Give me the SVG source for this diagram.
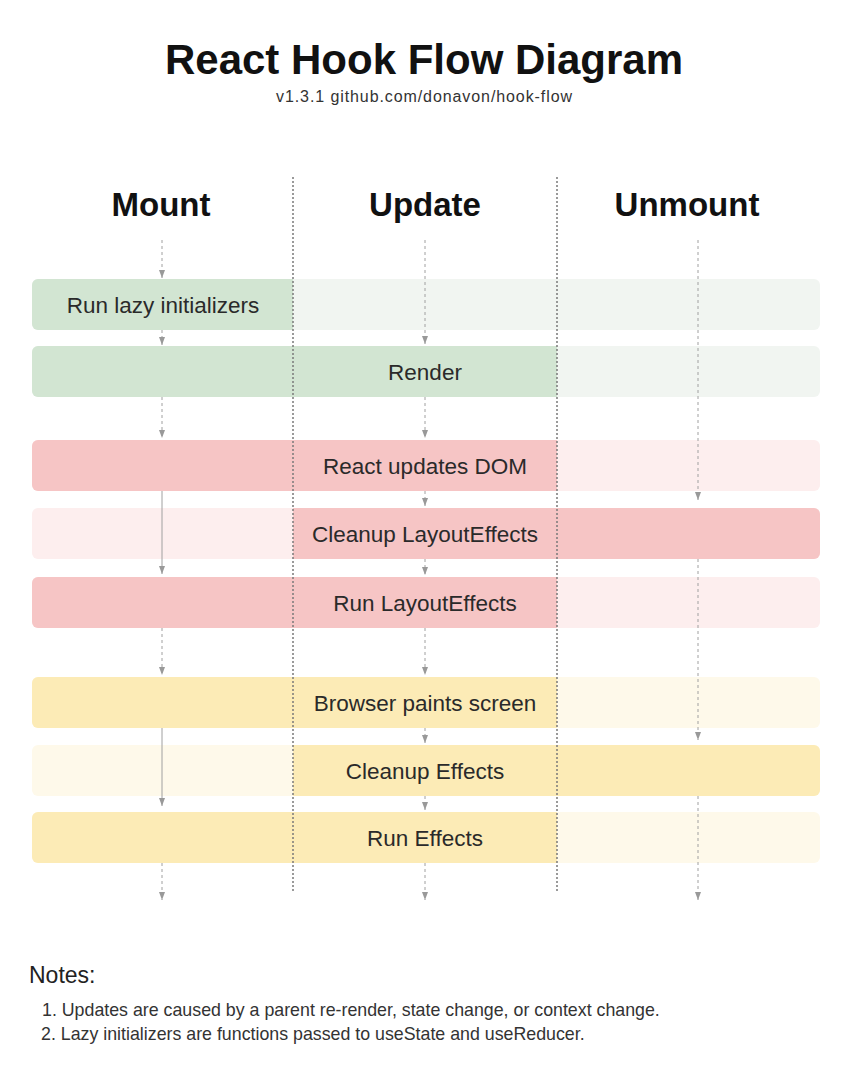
<svg xmlns="http://www.w3.org/2000/svg" width="848" height="1078" viewBox="0 0 848 1078">
  <style>
    .title { font-family: "Liberation Sans", Arial, sans-serif; font-weight: bold; font-size: 42px; fill: #111; text-anchor: middle; }
    .sub { font-family: "Liberation Sans", Arial, sans-serif; font-size: 16px; fill: #333; text-anchor: middle; }
    .head { font-family: "Liberation Sans", Arial, sans-serif; font-weight: bold; font-size: 33px; fill: #111; text-anchor: middle; }
    .lbl { font-family: "Liberation Sans", Arial, sans-serif; font-size: 22.5px; fill: #2a2a2a; text-anchor: middle; }
    .notesh { font-family: "Liberation Sans", Arial, sans-serif; font-size: 23px; fill: #222; }
    .note { font-family: "Liberation Sans", Arial, sans-serif; font-size: 17.8px; fill: #333; }
    .gS { fill: #d2e5d2; } .gF { fill: #f1f5f1; }
    .rS { fill: #f6c5c5; } .rF { fill: #fdeeee; }
    .yS { fill: #fcebb6; } .yF { fill: #fef9ea; }
    .sep { stroke: #7a7a7a; stroke-width: 1.5; stroke-dasharray: 2 2; fill: none; }
    .dash { stroke: #a0a0a0; stroke-width: 1; stroke-dasharray: 3 3; fill: none; }
    .solid { stroke: #a0a0a0; stroke-width: 1; fill: none; }
  </style>
  <defs>
    <marker id="ah" viewBox="0 0 8 6" refX="8" refY="3" markerWidth="8" markerHeight="6" markerUnits="userSpaceOnUse" orient="auto">
      <path d="M0,0 L8,3 L0,6 Z" fill="#999"/>
    </marker>
  </defs>
  <rect width="848" height="1078" fill="#fff"/>

  <text class="title" x="424" y="74">React Hook Flow Diagram</text>
  <text class="sub" x="424" y="102" textLength="296" lengthAdjust="spacing">v1.3.1 github.com/donavon/hook-flow</text>

  <text class="head" x="161" y="216">Mount</text>
  <text class="head" x="425" y="216">Update</text>
  <text class="head" x="687" y="216">Unmount</text>

  <g id="node-run-lazy-initializers">
    <rect class="gF" x="32" y="279" width="788" height="51" rx="6"/>
    <path class="gS" d="M38,279 H293 V330 H38 A6,6 0 0 1 32,324 V285 A6,6 0 0 1 38,279 Z"/>
    <text class="lbl" x="163" y="312.5">Run lazy initializers</text>
  </g>
  <g id="node-render">
    <rect class="gF" x="32" y="346" width="788" height="51" rx="6"/>
    <path class="gS" d="M38,346 H557 V397 H38 A6,6 0 0 1 32,391 V352 A6,6 0 0 1 38,346 Z"/>
    <text class="lbl" x="425" y="379.5">Render</text>
  </g>
  <g id="node-react-updates-dom">
    <rect class="rF" x="32" y="440" width="788" height="51" rx="6"/>
    <path class="rS" d="M38,440 H557 V491 H38 A6,6 0 0 1 32,485 V446 A6,6 0 0 1 38,440 Z"/>
    <text class="lbl" x="425" y="473.5">React updates DOM</text>
  </g>
  <g id="node-cleanup-layouteffects">
    <rect class="rF" x="32" y="508" width="788" height="51" rx="6"/>
    <path class="rS" d="M293,508 H814 A6,6 0 0 1 820,514 V553 A6,6 0 0 1 814,559 H293 Z"/>
    <text class="lbl" x="425" y="541.5">Cleanup LayoutEffects</text>
  </g>
  <g id="node-run-layouteffects">
    <rect class="rF" x="32" y="577" width="788" height="51" rx="6"/>
    <path class="rS" d="M38,577 H557 V628 H38 A6,6 0 0 1 32,622 V583 A6,6 0 0 1 38,577 Z"/>
    <text class="lbl" x="425" y="610.5">Run LayoutEffects</text>
  </g>
  <g id="node-browser-paints-screen">
    <rect class="yF" x="32" y="677" width="788" height="51" rx="6"/>
    <path class="yS" d="M38,677 H557 V728 H38 A6,6 0 0 1 32,722 V683 A6,6 0 0 1 38,677 Z"/>
    <text class="lbl" x="425" y="710.5">Browser paints screen</text>
  </g>
  <g id="node-cleanup-effects">
    <rect class="yF" x="32" y="745" width="788" height="51" rx="6"/>
    <path class="yS" d="M293,745 H814 A6,6 0 0 1 820,751 V790 A6,6 0 0 1 814,796 H293 Z"/>
    <text class="lbl" x="425" y="778.5">Cleanup Effects</text>
  </g>
  <g id="node-run-effects">
    <rect class="yF" x="32" y="812" width="788" height="51" rx="6"/>
    <path class="yS" d="M38,812 H557 V863 H38 A6,6 0 0 1 32,857 V818 A6,6 0 0 1 38,812 Z"/>
    <text class="lbl" x="425" y="845.5">Run Effects</text>
  </g>

  <g id="separators">
    <line class="sep" x1="293" y1="177" x2="293" y2="893"/>
    <line class="sep" x1="557" y1="177" x2="557" y2="893"/>
  </g>

  <g id="connectors">
    <line class="dash" x1="162" y1="240" x2="162" y2="278" marker-end="url(#ah)"/>
    <line class="dash" x1="162" y1="330" x2="162" y2="345" marker-end="url(#ah)"/>
    <line class="dash" x1="162" y1="397" x2="162" y2="438" marker-end="url(#ah)"/>
    <line class="solid" x1="162" y1="491" x2="162" y2="574" marker-end="url(#ah)"/>
    <line class="dash" x1="162" y1="628" x2="162" y2="675" marker-end="url(#ah)"/>
    <line class="solid" x1="162" y1="728" x2="162" y2="806" marker-end="url(#ah)"/>
    <line class="dash" x1="162" y1="863" x2="162" y2="900" marker-end="url(#ah)"/>
    <line class="dash" x1="425" y1="240" x2="425" y2="344" marker-end="url(#ah)"/>
    <line class="dash" x1="425" y1="397" x2="425" y2="438" marker-end="url(#ah)"/>
    <line class="dash" x1="425" y1="491" x2="425" y2="506" marker-end="url(#ah)"/>
    <line class="dash" x1="425" y1="559" x2="425" y2="575" marker-end="url(#ah)"/>
    <line class="dash" x1="425" y1="628" x2="425" y2="675" marker-end="url(#ah)"/>
    <line class="dash" x1="425" y1="728" x2="425" y2="743" marker-end="url(#ah)"/>
    <line class="dash" x1="425" y1="796" x2="425" y2="810" marker-end="url(#ah)"/>
    <line class="dash" x1="425" y1="863" x2="425" y2="900" marker-end="url(#ah)"/>
    <line class="dash" x1="698" y1="240" x2="698" y2="500" marker-end="url(#ah)"/>
    <line class="dash" x1="698" y1="559" x2="698" y2="740" marker-end="url(#ah)"/>
    <line class="dash" x1="698" y1="796" x2="698" y2="900" marker-end="url(#ah)"/>
  </g>

  <text class="notesh" x="29" y="983">Notes:</text>
  <text class="note" x="42" y="1016">1. Updates are caused by a parent re-render, state change, or context change.</text>
  <text class="note" x="41" y="1040">2. Lazy initializers are functions passed to useState and useReducer.</text>
</svg>
